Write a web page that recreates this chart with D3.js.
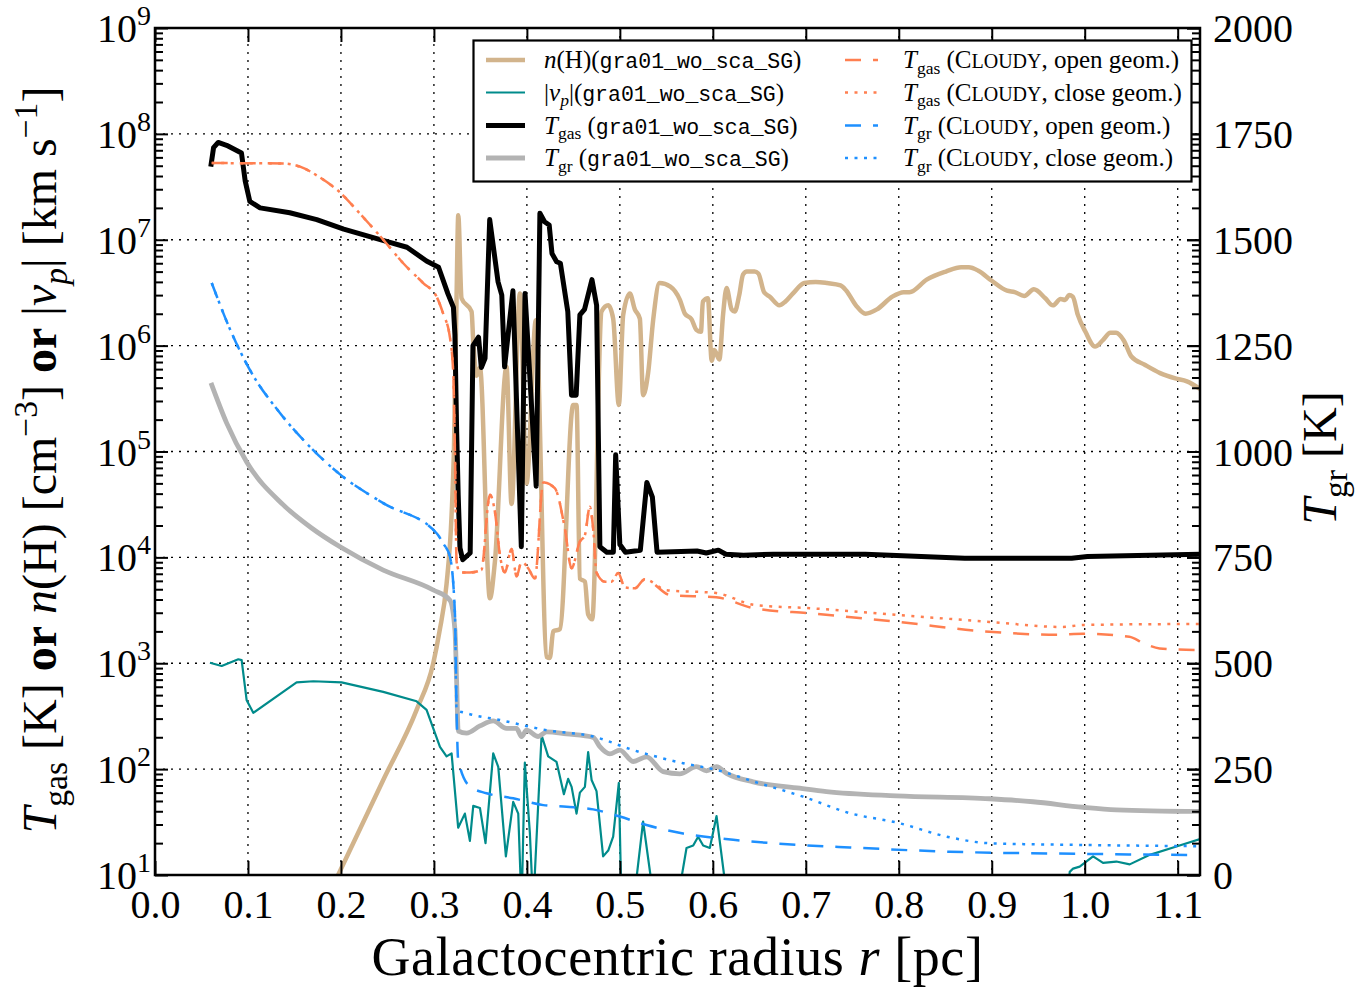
<!DOCTYPE html>
<html>
<head>
<meta charset="utf-8">
<style>
body { margin: 0; background: #fff; }
svg text { font-family: "Liberation Serif", "DejaVu Serif", serif; fill: #000; }
</style>
</head>
<body>
<svg width="1370" height="990"></svg>
<script src="https://d3js.org/d3.v7.min.js"></script>
<script>
// ---- data (x = radius in pc) ----
var xTicks = [0, 0.1, 0.2, 0.3, 0.4, 0.5, 0.6, 0.7, 0.8, 0.9, 1.0, 1.1];
var xTickLabels = ["0.0", "0.1", "0.2", "0.3", "0.4", "0.5", "0.6", "0.7", "0.8", "0.9", "1.0", "1.1"];
var yDecades = [1e1, 1e2, 1e3, 1e4, 1e5, 1e6, 1e7, 1e8, 1e9];
var yExponents = ["1", "2", "3", "4", "5", "6", "7", "8", "9"];
var y2Ticks = [0, 250, 500, 750, 1000, 1250, 1500, 1750, 2000];

// n(H) [cm^-3]
var nH = [[0.197,10],[0.2455,79],[0.2814,363],[0.2993,1000],[0.306,2000],[0.3136,5600],[0.319,2.5e4],[0.3215,1e5],
  [0.3244,3.0e6],[0.3262,1.7e7],[0.3297,2.8e6],[0.3405,2.1e6],[0.3423,1.1e6],[0.3459,5.2e5],[0.3495,6.2e5],[0.3602,4.1e3],
  [0.3656,9.1e3],[0.3781,6.3e5],[0.3835,3.2e4],[0.3925,3.1e6],[0.3996,5.0e4],[0.4097,1.74e6],[0.4212,1.15e3],[0.4247,1.12e3],
  [0.4283,2.0e3],[0.4355,2.1e3],[0.4498,2.75e5],[0.4534,2.75e5],[0.457,6.3e3],[0.4624,5.9e3],[0.4659,2.9e3],[0.4703,2.6e3],
  [0.4803,2.1e6],[0.4875,2.4e6],[0.4928,1.8e6],[0.4989,2.75e5],[0.5036,1.95e6],[0.5108,3.1e6],[0.5161,2.2e6],[0.5215,1.8e6],
  [0.525,3.4e5],[0.5305,5.6e5],[0.5358,1.74e6],[0.5428,3.9e6],[0.5543,3.6e6],[0.5646,2.7e6],[0.57,2.0e6],[0.577,1.78e6],
  [0.5823,1.41e6],[0.5872,1.35e6],[0.5893,2.6e6],[0.5947,2.8e6],[0.5988,7.2e5],[0.6016,9.1e5],[0.607,7.4e5],[0.6111,2.0e6],
  [0.6148,3.5e6],[0.6202,2.2e6],[0.6235,2.1e6],[0.6284,3.0e6],[0.6325,4.7e6],[0.6366,5.0e6],[0.6449,5.0e6],[0.649,4.8e6],
  [0.6551,3.2e6],[0.6613,2.9e6],[0.6716,2.4e6],[0.6778,2.6e6],[0.686,3.1e6],[0.6984,3.9e6],[0.7107,4.0e6],[0.723,3.9e6],
  [0.7374,3.7e6],[0.7436,3.3e6],[0.7539,2.4e6],[0.7642,2.0e6],[0.7765,2.2e6],[0.793,2.9e6],[0.8053,3.2e6],[0.8115,3.2e6],
  [0.83,4.2e6],[0.8506,5.0e6],[0.8671,5.5e6],[0.8753,5.5e6],[0.8856,5.1e6],[0.9,4.1e6],[0.9165,3.3e6],[0.9247,3.2e6],
  [0.935,2.95e6],[0.9453,3.4e6],[0.9576,2.8e6],[0.9658,2.4e6],[0.9741,2.75e6],[0.979,2.7e6],[0.9831,3.0e6],[0.9872,2.9e6],
  [0.9926,1.95e6],[1.0008,1.35e6],[1.0111,9.8e5],[1.0193,1.12e6],[1.0276,1.32e6],[1.0337,1.32e6],[1.042,1.12e6],[1.0502,7.9e5],
  [1.0646,6.6e5],[1.0811,5.5e5],[1.0975,4.9e5],[1.1099,4.6e5],[1.124,3.9e5]];

// |v_p| [km/s]
var vp = [[0.0591,1010],[0.0717,942],[0.0896,1090],[0.0932,1070],[0.0986,447],[0.1057,340],[0.1523,660],[0.1703,676],
  [0.2007,660],[0.2455,537],[0.2814,437],[0.2921,363],[0.3065,162],[0.3136,132],[0.319,141],[0.3261,28],[0.3333,38],
  [0.3387,21],[0.3423,45],[0.3495,43],[0.3555,20],[0.3638,141],[0.3692,105],[0.3774,15],[0.3853,49],[0.3907,38],[0.3943,5],
  [0.3978,115],[0.4032,25],[0.4068,5],[0.4158,209],[0.4229,132],[0.4319,117],[0.4398,58],[0.4444,81],[0.4481,68],[0.4534,38],
  [0.457,60],[0.4624,68],[0.4659,145],[0.4696,79],[0.4749,62],[0.482,15],[0.4875,17],[0.4928,23],[0.4989,74],[0.5018,5],
  [0.5143,5],[0.525,32],[0.5376,5],[0.561,5],[0.5717,18],[0.5789,19],[0.5842,23],[0.5896,19],[0.5968,18],[0.604,36],
  [0.6165,5],[0.98,5],[0.9839,10.7],[0.9875,11.5],[0.9946,12],[1.009,15],[1.0197,13],[1.034,13.4],[1.0484,12.6],[1.07,15.5],
  [1.0986,18.6],[1.124,21.8]];

// T_gas simulation [K]
var tGas = [[0.060,4.9e7],[0.063,7.4e7],[0.068,8.3e7],[0.077,7.8e7],[0.093,6.6e7],[0.097,3.6e7],[0.102,2.3e7],[0.113,2.0e7],
  [0.145,1.8e7],[0.174,1.55e7],[0.203,1.26e7],[0.246,9.8e6],[0.271,8.5e6],[0.292,6.3e6],[0.305,5.5e6],[0.315,3.1e6],
  [0.321,2.3e6],[0.3226,1.26e6],[0.3244,1.66e5],[0.3261,3.9e4],[0.328,1.23e4],[0.331,9.5e3],[0.339,1.1e4],[0.342,1.0e6],
  [0.348,1.2e6],[0.351,6.2e5],[0.355,7.6e5],[0.360,1.55e7],[0.369,4.0e6],[0.373,3.0e6],[0.376,6.3e5],[0.385,3.3e6],
  [0.394,1.26e4],[0.398,3.1e6],[0.410,4.7e4],[0.414,1.78e7],[0.419,1.48e7],[0.424,1.38e7],[0.427,7.4e6],[0.432,6.2e6],
  [0.436,6.0e6],[0.444,2.1e6],[0.448,3.4e5],[0.453,3.4e5],[0.457,1.95e6],[0.462,2.2e6],[0.470,4.2e6],[0.475,2.4e6],
  [0.4785,1.26e4],[0.486,1.12e4],[0.493,1.12e4],[0.4955,9.3e4],[0.500,1.32e4],[0.506,1.12e4],[0.522,1.17e4],[0.529,5.1e4],
  [0.535,3.7e4],[0.540,1.12e4],[0.583,1.15e4],[0.593,1.1e4],[0.606,1.17e4],[0.614,1.07e4],[0.633,1.05e4],[0.665,1.07e4],
  [0.764,1.07e4],[0.871,9.8e3],[0.986,9.8e3],[1.003,1.02e4],[1.124,1.07e4]];

// T_gr simulation [K] (right axis)
var tGr = [[0.0602,1162],[0.0771,1067],[0.0986,975],[0.138,874],[0.168,820],[0.199,775],[0.2455,720],
  [0.2993,673],[0.3172,649],[0.3226,579],[0.3244,460],[0.3261,340],[0.3351,335],[0.3495,352],[0.3638,364],[0.3781,346],
  [0.3889,346],[0.3943,327],[0.3996,342],[0.4122,327],[0.4212,338],[0.4427,333],[0.4713,325],[0.4785,303],[0.4892,286],
  [0.50,295],[0.5143,268],[0.5287,279],[0.5466,244],[0.5645,239],[0.5824,256],[0.5932,246],[0.604,256],[0.6147,240],
  [0.6434,220],[0.6935,205],[0.7222,197],[0.7975,187],[0.8978,180],[0.9444,173],[0.998,160],[1.034,154],[1.124,150]];

// CLOUDY T_gas [K]: both geometries coincide inside ~0.53 pc
var cloudyTgasInner = [[0.061,5.3e7],[0.138,5.25e7],[0.156,4.9e7],[0.177,3.9e7],[0.199,2.8e7],[0.220,1.78e7],[0.2455,1.0e7],
  [0.267,6.0e6],[0.2885,3.9e6],[0.3029,2.9e6],[0.310,2.0e6],[0.3172,1.2e6],[0.3208,5.5e5],[0.3226,1e5],[0.3244,9.1e3],
  [0.328,7.2e3],[0.3387,7.2e3],[0.351,7.6e3],[0.3602,3.9e4],[0.3656,2.7e4],[0.371,1.05e4],[0.3763,7.2e3],[0.3835,1.2e4],
  [0.3889,6.6e3],[0.3943,9.1e3],[0.4014,7.9e3],[0.4086,6.3e3],[0.4176,5.1e4],[0.43,4.5e4],[0.4409,1.86e4],[0.448,7.9e3],
  [0.457,1.41e4],[0.4624,1.62e4],[0.4677,3.0e4],[0.4713,1.86e4],[0.4749,7.2e3],[0.4839,5.9e3],[0.491,5.9e3],[0.4982,7.1e3],
  [0.5054,5.2e3],[0.5161,5.1e3],[0.5269,6.2e3]];
var cloudyTgasOpenOuter = [[0.5543,4.4e3],[0.6037,4.2e3],[0.6449,3.3e3],[0.7066,2.95e3],[0.8012,2.45e3],[0.8918,2.0e3],
  [0.9695,1.86e3],[0.998,1.9e3],[1.048,1.78e3],[1.063,1.55e3],[1.0806,1.38e3],[1.124,1.33e3]];
var cloudyTgasCloseOuter = [[0.55,4.9e3],[0.6037,4.6e3],[0.6449,3.55e3],[0.7066,3.3e3],[0.8012,2.85e3],[0.9,2.45e3],
  [0.976,2.2e3],[0.998,2.3e3],[1.124,2.35e3]];

// CLOUDY T_gr [K] (right axis)
var cloudyTgrInner = [[0.061,1398],[0.0824,1280],[0.1022,1192],[0.1344,1091],[0.1667,1011],[0.199,946],[0.2455,878],
  [0.3029,807],[0.310,783],[0.3172,752],[0.3226,618]];
var cloudyTgrOpenOuter = [[0.3244,385],[0.3261,272],[0.3387,209],[0.3566,193],[0.3853,181],[0.4176,165],[0.4427,161],
  [0.4713,155],[0.50,138],[0.5287,118],[0.568,98],[0.6219,83],[0.6935,71],[0.7473,65],[0.8548,55],[0.998,50],[1.124,47]];
var cloudyTgrCloseOuter = [[0.3244,390],[0.3351,382],[0.371,366],[0.4212,342],[0.4713,327],[0.5143,295],[0.568,264],
  [0.604,248],[0.645,220],[0.6971,185],[0.7473,146],[0.7975,124],[0.8548,89],[0.8978,75],[0.998,71],[1.124,68]];

// ---- chart ----
var svg = d3.select("svg"),
    pl = 155, pr = 1200, pt = 28, pb = 875;

var x = d3.scaleLinear().domain([0, 1.124]).range([pl, pr]);
var y = d3.scaleLog().domain([10, 1e9]).range([pb, pt]);
var y2 = d3.scaleLinear().domain([0, 2000]).range([pb, pt]);

var MONO = "'Liberation Mono', 'DejaVu Sans Mono', monospace";

// rich text: segs = [[text, "i sub m sc b sup"], ...]
function rich(sel, segs, size, monoSize) {
  var shift = 0;
  segs.forEach(function(s) {
    var f = (s[1] || "").split(" ");
    var fs = size, target = 0;
    if (f.indexOf("sub") >= 0) { fs = size * 0.7; target = size * 0.22; }
    if (f.indexOf("sup") >= 0) { fs = size * 0.7; target = -size * 0.4; }
    if (f.indexOf("sc") >= 0) fs = size * 0.8;
    var t = sel.append("tspan").text(s[0]).attr("font-size", fs);
    if (f.indexOf("m") >= 0) t.style("font-family", MONO).attr("font-size", monoSize || size * 0.9);
    if (f.indexOf("i") >= 0) t.attr("font-style", "italic");
    if (f.indexOf("b") >= 0) t.attr("font-weight", "bold");
    if (target !== shift) t.attr("dy", target - shift);
    shift = target;
  });
}

// grid
var grid = svg.append("g").attr("stroke", "#000").attr("stroke-width", 1.3).attr("stroke-dasharray", "2,6");
grid.selectAll(".gx").data(xTicks.slice(1)).enter().append("line")
    .attr("x1", function(d) { return x(d); }).attr("x2", function(d) { return x(d); })
    .attr("y1", pt).attr("y2", pb);
grid.selectAll(".gy").data(yDecades.slice(1, -1)).enter().append("line")
    .attr("x1", pl).attr("x2", pr)
    .attr("y1", function(d) { return y(d); }).attr("y2", function(d) { return y(d); });

// series
var series = [
  {data: nH, sc: y, color: "#d2b48c", w: 4.5, dash: null, smooth: true, col: 0, row: 0,
   label: [["n", "i"], ["(H)(", ""], ["gra01_wo_sca_SG", "m"], [")", ""]]},
  {data: vp, sc: y, color: "#008b8b", w: 2.2, dash: null, smooth: false, col: 0, row: 1,
   label: [["|", ""], ["v", "i"], ["p", "i sub"], ["|(", ""], ["gra01_wo_sca_SG", "m"], [")", ""]]},
  {data: tGas, sc: y, color: "#000", w: 5, dash: null, smooth: false, col: 0, row: 2,
   label: [["T", "i"], ["gas", "sub"], [" (", ""], ["gra01_wo_sca_SG", "m"], [")", ""]]},
  {data: cloudyTgasInner.concat(cloudyTgasOpenOuter), sc: y, color: "#ff7f50", w: 2.5, dash: "16,12", smooth: true, col: 1, row: 0,
   label: [["T", "i"], ["gas", "sub"], [" (", ""], ["C", ""], ["LOUDY", "sc"], [", open geom.)", ""]]},
  {data: cloudyTgasInner.concat(cloudyTgasCloseOuter), sc: y, color: "#ff7f50", w: 2.5, dash: "3,6.5", smooth: true, col: 1, row: 1,
   label: [["T", "i"], ["gas", "sub"], [" (", ""], ["C", ""], ["LOUDY", "sc"], [", close geom.)", ""]]},
  {data: tGr, sc: y2, color: "#b3b3b3", w: 4.8, dash: null, smooth: true, col: 0, row: 3,
   label: [["T", "i"], ["gr", "sub"], [" (", ""], ["gra01_wo_sca_SG", "m"], [")", ""]]},
  {data: cloudyTgrInner.concat(cloudyTgrOpenOuter), sc: y2, color: "#1e90ff", w: 2.5, dash: "16,12", smooth: true, col: 1, row: 2,
   label: [["T", "i"], ["gr", "sub"], [" (", ""], ["C", ""], ["LOUDY", "sc"], [", open geom.)", ""]]},
  {data: cloudyTgrInner.concat(cloudyTgrCloseOuter), sc: y2, color: "#1e90ff", w: 2.5, dash: "3,6.5", smooth: true, col: 1, row: 3,
   label: [["T", "i"], ["gr", "sub"], [" (", ""], ["C", ""], ["LOUDY", "sc"], [", close geom.)", ""]]}
];

svg.append("clipPath").attr("id", "plot").append("rect")
    .attr("x", pl).attr("y", pt).attr("width", pr - pl).attr("height", pb - pt);

var lines = svg.append("g").attr("clip-path", "url(#plot)");
series.forEach(function(s) {
  var line = d3.line()
      .curve(s.smooth ? d3.curveMonotoneX : d3.curveLinear)
      .x(function(d) { return x(d[0]); })
      .y(function(d) { return s.sc(d[1]); });
  lines.append("path")
      .datum(s.data)
      .attr("fill", "none")
      .attr("stroke", s.color)
      .attr("stroke-width", s.w)
      .attr("stroke-linejoin", "round")
      .attr("stroke-dasharray", s.dash)
      .attr("d", line);
});

// axes (ticks point inward, classic style)
var minors = [];
yDecades.slice(0, -1).forEach(function(d) { for (var k = 2; k < 10; k++) minors.push(d * k); });

function styleAxis(g) {
  g.select(".domain").remove();
  g.selectAll("line").attr("stroke", "#000").attr("stroke-width", 2);
  g.attr("font-family", "'Liberation Serif', serif").attr("font-size", 40);
}

svg.append("g").attr("transform", "translate(0," + pb + ")")
    .call(d3.axisBottom(x).tickValues(xTicks).tickSize(-14).tickPadding(15)
      .tickFormat(function(d, i) { return xTickLabels[i]; }))
    .call(styleAxis);
svg.append("g").attr("transform", "translate(0," + pt + ")")
    .call(d3.axisTop(x).tickValues(xTicks).tickSize(-14).tickFormat(""))
    .call(styleAxis);

var gl = svg.append("g").attr("transform", "translate(" + pl + ",0)")
    .call(d3.axisLeft(y).tickValues(yDecades).tickSize(-13).tickPadding(4).tickFormat(""))
    .call(styleAxis);
gl.selectAll(".tick text").attr("dy", "0.34em").each(function(d, i) {
  var t = d3.select(this);
  t.append("tspan").text("10");
  t.append("tspan").text(yExponents[i]).attr("font-size", 28).attr("dy", -17);
});
svg.append("g").attr("transform", "translate(" + pl + ",0)")
    .call(d3.axisLeft(y).tickValues(minors).tickSize(-8).tickFormat(""))
    .call(styleAxis);
svg.append("g").attr("transform", "translate(" + pr + ",0)")
    .call(d3.axisRight(y).tickValues(yDecades).tickSize(-13).tickFormat(""))
    .call(styleAxis);
svg.append("g").attr("transform", "translate(" + pr + ",0)")
    .call(d3.axisRight(y).tickValues(minors).tickSize(-8).tickFormat(""))
    .call(styleAxis);
svg.append("g").attr("transform", "translate(" + pr + ",0)")
    .call(d3.axisRight(y2).tickValues(y2Ticks).tickSize(-13).tickPadding(13).tickFormat(d3.format("d")))
    .call(styleAxis)
    .selectAll("text").attr("dy", "0.34em");

svg.append("rect")
    .attr("x", pl).attr("y", pt).attr("width", pr - pl).attr("height", pb - pt)
    .attr("fill", "none").attr("stroke", "#000").attr("stroke-width", 2.5);

// axis labels
var xl = svg.append("text").attr("x", (pl + pr) / 2).attr("y", 975)
    .attr("text-anchor", "middle").attr("font-size", 54).attr("letter-spacing", 0.6);
rich(xl, [["Galactocentric radius ", ""], ["r", "i"], [" [pc]", ""]], 54);

var yl = svg.append("text").attr("transform", "translate(56,460) rotate(-90)")
    .attr("text-anchor", "middle").attr("font-size", 48);
rich(yl, [["T", "i"], ["gas", "sub"], [" [K] ", ""], ["or", "b"], [" ", ""], ["n", "i"], ["(H) [cm", ""], ["\u22123", "sup"],
  ["] ", ""], ["or", "b"], [" |", ""], ["v", "i"], ["p", "i sub"], ["| [km s", ""], ["\u22121", "sup"], ["]", ""]], 48);

var yr = svg.append("text").attr("transform", "translate(1336,458) rotate(-90)")
    .attr("text-anchor", "middle").attr("font-size", 48);
rich(yr, [["T", "i"], ["gr", "sub"], [" [K]", ""]], 48);

// legend
var legend = svg.append("g");
legend.append("rect").attr("x", 473.5).attr("y", 40.5).attr("width", 718).attr("height", 141)
    .attr("fill", "#fff").attr("stroke", "#000").attr("stroke-width", 2.2);
var rowY = [60, 92.5, 125.5, 158], sampleX = [[486, 525], [845, 878]], textX = [544, 903];
series.forEach(function(s) {
  var yy = rowY[s.row];
  legend.append("line")
      .attr("x1", sampleX[s.col][0]).attr("x2", sampleX[s.col][1])
      .attr("y1", yy).attr("y2", yy)
      .attr("stroke", s.color).attr("stroke-width", s.w)
      .attr("stroke-dasharray", s.dash);
  var t = legend.append("text").attr("x", textX[s.col]).attr("y", yy + 8).attr("font-size", 25);
  rich(t, s.label, 25, 21.5);
});
</script>
</body>
</html>
